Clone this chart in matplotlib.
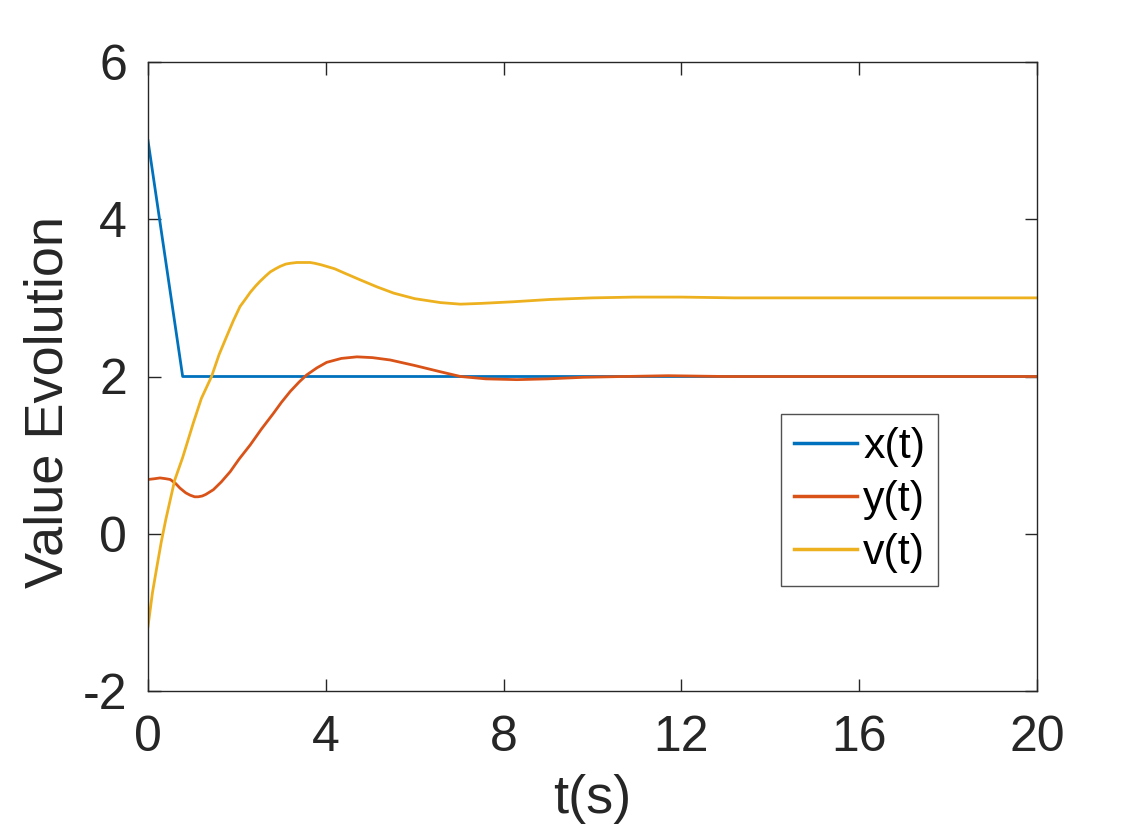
import numpy as np
import matplotlib.pyplot as plt

plt.rcParams['font.family'] = ['Liberation Sans', 'DejaVu Sans']
plt.rcParams['axes.unicode_minus'] = False

# x(t): drops linearly then holds at 2
tx = [0, 0.78, 20]
xv = [5.0, 2.0, 2.0]

# y(t)
ty = [0, 0.15, 0.27, 0.4, 0.5, 0.62, 0.72, 0.85, 0.95, 1.05, 1.13, 1.22, 1.3, 1.47, 1.65,
      1.85, 2.05, 2.3, 2.55, 2.82, 3.0, 3.2, 3.4, 3.57, 3.8, 4.02, 4.35, 4.7, 5.05, 5.45,
      6.0, 6.58, 7.03, 7.6, 8.3, 9.0, 9.8, 10.7, 11.7, 13.0, 15.0, 20]
yv = [0.69, 0.70, 0.71, 0.70, 0.69, 0.64, 0.58, 0.52, 0.49, 0.47, 0.47, 0.48, 0.50, 0.56, 0.66,
      0.79, 0.95, 1.13, 1.33, 1.53, 1.67, 1.81, 1.93, 2.02, 2.11, 2.18, 2.23, 2.25, 2.24, 2.21,
      2.14, 2.06, 2.00, 1.97, 1.96, 1.97, 1.99, 2.0, 2.01, 2.0, 2.0, 2.0]

# v(t)
tv = [0, 0.1, 0.2, 0.3, 0.4, 0.5, 0.6, 0.78, 0.9, 1.02, 1.2, 1.43, 1.6, 1.77, 1.92,
      2.07, 2.2, 2.3, 2.42, 2.52, 2.65, 2.75, 2.87, 2.97, 3.1, 3.2, 3.35, 3.5, 3.65, 3.75,
      3.9, 4.02, 4.2, 4.4, 4.77, 5.15, 5.53, 6.0,
      6.58, 7.03, 7.5, 8.2, 9.05, 10.0, 10.93, 12.0, 13.2, 15.0, 20]
vv = [-1.18, -0.75, -0.42, -0.1, 0.18, 0.43, 0.68, 0.97, 1.19, 1.41, 1.72, 2.0, 2.28, 2.51, 2.71,
      2.89, 2.99, 3.07, 3.15, 3.21, 3.28, 3.33, 3.37, 3.40, 3.43, 3.44, 3.45, 3.45, 3.45, 3.44,
      3.42, 3.40, 3.37, 3.32, 3.23, 3.14, 3.06, 2.99,
      2.94, 2.92, 2.93, 2.95, 2.98, 3.0, 3.01, 3.01, 3.0, 3.0, 3.0]

fig = plt.figure(figsize=(11.46, 8.34), dpi=100)
ax = fig.add_axes([148/1146, 1 - 691/834, (1037 - 148)/1146, (691 - 62)/834])

ax.plot(tx, xv, color='#0072BD', lw=2.0, label='x(t)')
ax.plot(ty, yv, color='#D95319', lw=2.0, label='y(t)')
ax.plot(tv, vv, color='#EDB120', lw=2.0, label='v(t)')

ax.set_xlim(0, 20)
ax.set_ylim(-2, 6)
ax.set_xticks([0, 4, 8, 12, 16, 20])
ax.set_yticks([-2, 0, 2, 4, 6])
ax.tick_params(direction='in', length=9, width=1.0, colors='#262626',
               labelsize=36, top=True, right=True)
ax.tick_params(axis='x', pad=17)
ax.tick_params(axis='y', pad=15)
for s in ax.spines.values():
    s.set_color('#262626')
    s.set_linewidth(1.0)

ax.set_xlabel('t(s)', fontsize=39, color='#262626', labelpad=10)
ax.set_ylabel('Value Evolution', fontsize=39, color='#262626')
ax.yaxis.set_label_coords(-0.084, 0.46)

leg = ax.legend(loc='upper left', bbox_to_anchor=((781 - 148)/889, (691 - 414)/629),
                fontsize=31, frameon=True, fancybox=False, handlelength=1.46,
                handletextpad=0.15, labelspacing=0.3, borderpad=0.3,
                borderaxespad=0)
leg.get_frame().set_edgecolor('#262626')
leg.get_frame().set_linewidth(1.0)
for line in leg.get_lines():
    line.set_linewidth(2.5)

fig.savefig('out.png', dpi=100)
